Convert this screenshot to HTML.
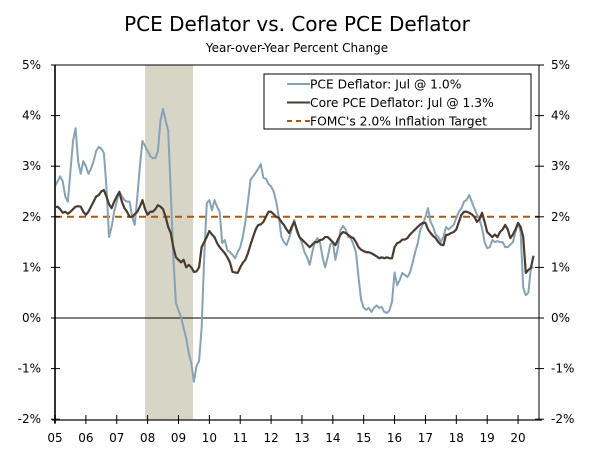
<!DOCTYPE html>
<html><head><meta charset="utf-8"><style>
body{margin:0;background:#fff;}
svg text{font-family:"DejaVu Sans","Liberation Sans",sans-serif;fill:#000;}
</style></head><body>
<svg width="600" height="455" viewBox="0 0 600 455">
<text x="297" y="31" font-size="20" text-anchor="middle">PCE Deflator vs. Core PCE Deflator</text>
<text x="297" y="52" font-size="12" text-anchor="middle">Year-over-Year Percent Change</text>
<g id="plot"></g>
</svg>
<script>
const yearLabels=["05","06","07","08","09","10","11","12","13","14","15","16","17","18","19","20"];
const yTicks=[5,4,3,2,1,0,-1,-2];
const recession=[2007.92,2009.47];
const target=2.0;
const pce=[2.6,2.7,2.8,2.7,2.4,2.3,2.9,3.5,3.75,3.1,2.85,3.1,
3.0,2.85,2.95,3.1,3.3,3.38,3.35,3.26,2.6,1.6,1.8,2.1,
2.3,2.5,2.4,2.33,2.3,2.3,2.0,1.84,2.4,3.0,3.5,3.4,
3.3,3.2,3.16,3.16,3.3,3.9,4.13,3.9,3.7,2.5,1.2,0.3,
0.15,0.02,-0.2,-0.4,-0.7,-0.9,-1.26,-0.95,-0.85,-0.2,1.2,2.27,
2.33,2.13,2.33,2.2,2.1,1.48,1.54,1.34,1.3,1.25,1.18,1.3,
1.4,1.6,1.9,2.3,2.73,2.8,2.87,2.95,3.04,2.77,2.75,2.65,
2.6,2.5,2.3,2.0,1.6,1.5,1.44,1.58,1.75,1.94,1.7,1.6,
1.48,1.3,1.2,1.05,1.3,1.5,1.58,1.5,1.2,1.0,1.2,1.45,
1.5,1.15,1.4,1.74,1.82,1.75,1.6,1.58,1.45,1.3,0.8,0.36,
0.2,0.16,0.2,0.12,0.2,0.25,0.2,0.22,0.12,0.1,0.15,0.32,
0.9,0.65,0.75,0.89,0.85,0.81,0.9,1.09,1.3,1.48,1.74,1.85,
2.0,2.17,1.9,1.8,1.65,1.6,1.5,1.6,1.8,1.75,1.8,1.84,
1.98,2.1,2.17,2.3,2.33,2.43,2.3,2.17,2.05,1.94,1.78,1.5,
1.38,1.4,1.54,1.5,1.52,1.5,1.5,1.4,1.4,1.45,1.5,1.7,
1.88,1.7,0.6,0.45,0.5,0.99,1.0];
const core=[2.19,2.2,2.15,2.08,2.1,2.06,2.1,2.15,2.2,2.21,2.2,2.1,
2.04,2.1,2.2,2.3,2.4,2.43,2.5,2.53,2.4,2.25,2.17,2.3,
2.4,2.49,2.3,2.17,2.1,2.0,2.0,2.05,2.1,2.2,2.33,2.15,
2.04,2.1,2.1,2.15,2.23,2.2,2.15,2.0,1.8,1.68,1.4,1.2,
1.15,1.1,1.15,1.0,1.05,1.0,0.91,0.92,1.0,1.4,1.5,1.6,
1.72,1.65,1.6,1.48,1.4,1.34,1.28,1.2,1.1,0.91,0.9,0.89,
1.0,1.09,1.15,1.28,1.45,1.6,1.75,1.84,1.85,1.9,2.0,2.1,
2.1,2.05,2.0,1.98,1.9,1.84,1.75,1.68,1.8,1.9,1.75,1.6,
1.55,1.5,1.45,1.4,1.45,1.5,1.5,1.54,1.55,1.6,1.6,1.55,
1.5,1.44,1.55,1.65,1.7,1.68,1.64,1.6,1.58,1.5,1.4,1.35,
1.32,1.3,1.3,1.28,1.25,1.22,1.18,1.2,1.18,1.2,1.18,1.18,
1.4,1.48,1.5,1.55,1.55,1.58,1.65,1.7,1.75,1.8,1.85,1.88,
1.88,1.75,1.68,1.62,1.58,1.5,1.45,1.44,1.64,1.65,1.68,1.7,
1.75,1.9,2.04,2.1,2.1,2.08,2.05,2.0,1.9,1.95,2.08,1.9,
1.7,1.65,1.6,1.65,1.6,1.7,1.75,1.84,1.75,1.58,1.65,1.75,
1.88,1.8,1.6,0.89,0.95,0.99,1.23];

const NS="http://www.w3.org/2000/svg";
const g=document.getElementById('plot');
const L=55,R=539,T=65,B=420;
const xYear=yr=>55+(yr-2005)*30.87;
const xMonth=m=>xYear(2005+m/12);
const yv=v=>318-v*50.6;
function mk(tag,attrs,parent){const e=document.createElementNS(NS,tag);for(const k in attrs)e.setAttribute(k,attrs[k]);(parent||g).appendChild(e);return e;}

let e=mk('rect',{x:xYear(recession[0]),y:T,width:xYear(recession[1])-xYear(recession[0]),height:B-T,fill:'#d6d5c6'});



e=mk('line',{x1:L,x2:R,y1:yv(0),y2:yv(0),stroke:'#000','stroke-width':1});



e=mk('line',{x1:L,x2:R,y1:yv(target),y2:yv(target),stroke:'#a35a1c','stroke-width':2,'stroke-dasharray':'7,5'});



function series(arr,color,name,w){
  const d=arr.map((v,i)=>(i?'L':'M')+xMonth(i).toFixed(2)+','+yv(v).toFixed(2)).join('');
  const p=mk('path',{d:d,fill:'none',stroke:color,'stroke-width':w,'stroke-linejoin':'round'});
  
  
}
series(pce,'#86a3b6','pce-deflator-line',2);
series(core,'#4b3b2f','core-pce-deflator-line',2.2);

// frame
e=mk('path',{d:`M${L},${B}L${L},${T}L${R},${T}L${R},${B}L${L},${B}`,fill:'none',stroke:'#000','stroke-width':1});


e=mk('line',{x1:L,x2:L,y1:T,y2:B+3,stroke:'#333','stroke-width':2});


e=mk('line',{x1:L-3,x2:R+3,y1:B,y2:B,stroke:'#333','stroke-width':1.5});



yTicks.forEach(v=>{
  const y=yv(v);
  let t=mk('line',{x1:L-4,x2:L+5,y1:y,y2:y,stroke:'#000'});
  
  
  t=mk('line',{x1:R-4,x2:R+5,y1:y,y2:y,stroke:'#000'});
  
  
  let tx=mk('text',{x:41,y:y+4,'font-size':12,'text-anchor':'end'});
  tx.textContent=v+'%';
  
  
  tx=mk('text',{x:551,y:y+4,'font-size':12,'text-anchor':'start'});
  tx.textContent=v+'%';
  
  
});
yearLabels.forEach((lab,i)=>{
  const x=xYear(2005+i);
  const t=mk('line',{x1:x,x2:x,y1:B-5,y2:B+4,stroke:'#000'});
  
  
  const tx=mk('text',{x:x,y:442,'font-size':12,'text-anchor':'middle'});
  tx.textContent=lab;
  
  
});

// legend
const lg=mk('g',{});


mk('rect',{x:264,y:74,width:267,height:55,fill:'#fff',stroke:'#000','stroke-width':1},lg);
const items=[['PCE Deflator: Jul @ 1.0%','#86a3b6',null,'legend-pce'],['Core PCE Deflator: Jul @ 1.3%','#4b3b2f',null,'legend-core-pce'],["FOMC's 2.0% Inflation Target",'#a35a1c','5,4','legend-fomc-target']];
items.forEach((it,i)=>{
  const y=84+i*18.5;
  const a={x1:287,x2:310,y1:y,y2:y,stroke:it[1],'stroke-width':2};
  if(it[2])a['stroke-dasharray']=it[2];
  mk('line',a,lg);
  const tx=mk('text',{x:310,y:y+4.5,'font-size':12.3},lg);
  tx.textContent=it[0];
  
  
});
</script>
</body></html>
